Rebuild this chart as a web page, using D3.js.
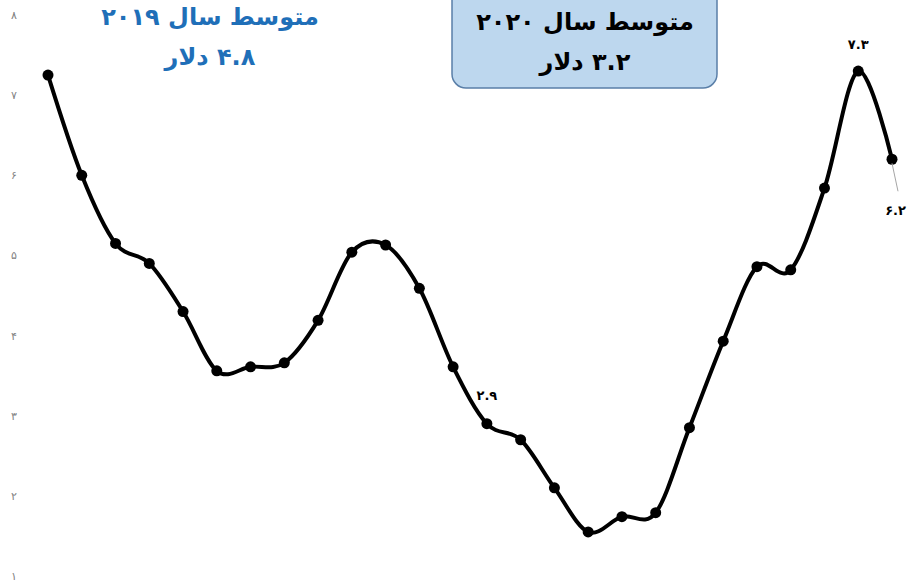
<!DOCTYPE html>
<html lang="fa">
<head>
<meta charset="utf-8">
<script src="https://cdn.jsdelivr.net/npm/d3@7"></script>
<style>
  html, body { margin: 0; padding: 0; background: #fff; }
  svg { display: block; font-family: "DejaVu Sans", sans-serif; }
</style>
</head>
<body>
<svg id="chart" width="908" height="583"></svg>
<script>
// Monthly price series (dollars)
const months = d3.range(1, 27);
const prices = [7.25, 6.0, 5.15, 4.9, 4.3, 3.56, 3.61, 3.66, 4.19, 5.04, 5.13, 4.59, 3.61,
                2.9, 2.7, 2.1, 1.55, 1.74, 1.79, 2.85, 3.93, 4.86, 4.82, 5.84, 7.3, 6.2];
const yTicks = [1, 2, 3, 4, 5, 6, 7, 8];
// Points that carry a value label: index, dx, dy, anchor
const labelled = [
  { i: 13, dx: 0, dy: -28, anchor: "middle" },
  { i: 24, dx: 0, dy: -27, anchor: "middle" },
  { i: 25, dx: 14, dy: 51, anchor: "end" }
];
const title2019 = ["متوسط سال ۲۰۱۹", "۴.۸ دلار"];
const title2020 = ["متوسط سال ۲۰۲۰", "۳.۲ دلار"];

const fa = n => String(n).replace(/\d/g, d => "۰۱۲۳۴۵۶۷۸۹"[d]);

const svg = d3.select("#chart");

const x = d3.scaleLinear().domain([0, months.length - 1]).range([48, 892]);
const y = d3.scaleLinear().domain([1, 8]).range([576, 15]);

// value axis, labels only
const axis = svg.append("g")
  .attr("transform", "translate(20,0)")
  .call(d3.axisLeft(y).tickValues(yTicks).tickSize(0).tickPadding(6).tickFormat(fa));
axis.select(".domain").remove();
axis.selectAll("text")
  .attr("fill", "#7f7f7f")
  .attr("font-size", 11)
  .attr("text-anchor", "middle");

// smoothed price line
const line = d3.line()
  .x((d, i) => x(i))
  .y(d => y(d))
  .curve(d3.curveCardinal.tension(0));

svg.append("path")
  .datum(prices)
  .attr("d", line)
  .attr("fill", "none")
  .attr("stroke", "#000")
  .attr("stroke-width", 4)
  .attr("stroke-linejoin", "round");

svg.append("g").selectAll("circle")
  .data(prices)
  .join("circle")
  .attr("cx", (d, i) => x(i))
  .attr("cy", d => y(d))
  .attr("r", 5.5)
  .attr("fill", "#000");

// leader line for the last point's label
const last = labelled[2];
svg.append("line")
  .attr("x1", x(last.i))
  .attr("y1", y(prices[last.i]) + 4)
  .attr("x2", x(last.i) + 6)
  .attr("y2", y(prices[last.i]) + 32)
  .attr("stroke", "#a6a6a6")
  .attr("stroke-width", 1);

svg.append("g").selectAll("text")
  .data(labelled)
  .join("text")
  .attr("x", d => x(d.i) + d.dx)
  .attr("y", d => y(prices[d.i]) + d.dy)
  .attr("text-anchor", d => d.anchor)
  .attr("dominant-baseline", "central")
  .attr("font-size", 13)
  .attr("font-weight", "bold")
  .attr("fill", "#000")
  .text(d => fa(prices[d.i]));

// 2019 average caption
svg.append("g").selectAll("text")
  .data(title2019)
  .join("text")
  .attr("x", 210)
  .attr("y", (d, i) => 17 + i * 40)
  .attr("direction", "rtl")
  .attr("text-anchor", "middle")
  .attr("dominant-baseline", "central")
  .attr("font-size", 24)
  .attr("font-weight", "bold")
  .attr("fill", "#1f6fb8")
  .text(d => d);

// 2020 average caption in a rounded box
svg.append("rect")
  .attr("x", 452)
  .attr("y", -14)
  .attr("width", 265)
  .attr("height", 102)
  .attr("rx", 14)
  .attr("fill", "#bdd7ee")
  .attr("stroke", "#5a7fa8")
  .attr("stroke-width", 1.5);

svg.append("g").selectAll("text")
  .data(title2020)
  .join("text")
  .attr("x", 585)
  .attr("y", (d, i) => 22 + i * 40)
  .attr("direction", "rtl")
  .attr("text-anchor", "middle")
  .attr("dominant-baseline", "central")
  .attr("font-size", 24)
  .attr("font-weight", "bold")
  .attr("fill", "#000")
  .text(d => d);
</script>
</body>
</html>
